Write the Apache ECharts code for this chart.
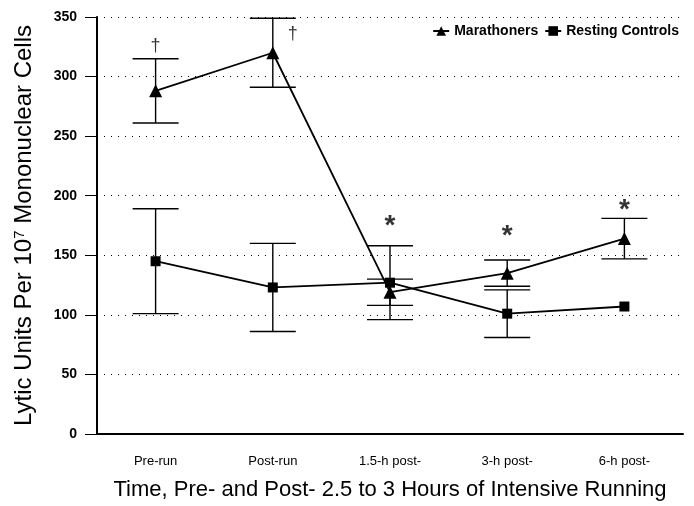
<!DOCTYPE html>
<html>
<head>
<meta charset="utf-8">
<script src="https://cdn.jsdelivr.net/npm/echarts@6/dist/echarts.min.js"></script>
<style>
  html, body { margin: 0; padding: 0; background: #fff; }
  #main { width: 694px; height: 506px; }
</style>
</head>
<body>
<div id="main"></div>
<script>
// values
var categories = ['Pre-run', 'Post-run', '1.5-h post-', '3-h post-', '6-h post-'];
var marathoners = [288, 320, 119, 135, 164];
var marathonersErr = [27, 29, 11, 11, 17];
var controls = [145, 123, 127, 101, 107];
var controlsErr = [44, 37, 31, 20, 0];
var yTicks = [0, 50, 100, 150, 200, 250, 300, 350];
// significance marks: dagger and asterisk
var daggerCats = ['Pre-run', 'Post-run'];
var daggerVals = [326, 336];
var starCats = ['1.5-h post-', '3-h post-', '6-h post-'];
var starVals = [179, 171, 193];

var font = 'Liberation Sans, Arial, Helvetica, sans-serif';

function errData(means, errs) {
  return means.map(function (m, i) { return [i, m - errs[i], m + errs[i]]; });
}

function renderErr(params, api) {
  var x = api.value(0);
  var lo = api.coord([x, api.value(1)]);
  var hi = api.coord([x, api.value(2)]);
  var hw = 23;
  var st = { stroke: '#000', lineWidth: 1.4 };
  if (api.value(2) - api.value(1) <= 0) return null;
  return {
    type: 'group',
    children: [
      { type: 'line', shape: { x1: lo[0], y1: lo[1], x2: hi[0], y2: hi[1] }, style: st },
      { type: 'line', shape: { x1: lo[0] - hw, y1: lo[1], x2: lo[0] + hw, y2: lo[1] }, style: st },
      { type: 'line', shape: { x1: hi[0] - hw, y1: hi[1], x2: hi[0] + hw, y2: hi[1] }, style: st }
    ]
  };
}

var chart = echarts.init(document.getElementById('main'));
chart.setOption({
  animation: false,
  textStyle: { fontFamily: font, color: '#000' },
  grid: { left: 97, right: 11, top: 17, bottom: 72, outerBoundsMode: 'none', containLabel: false },
  legend: {
    top: 19,
    right: 10,
    itemWidth: 16,
    itemHeight: 12,
    itemGap: 6,
    textStyle: { fontFamily: font, fontSize: 14, fontWeight: 'bold', color: '#000' },
    data: ['Marathoners', 'Resting Controls']
  },
  xAxis: {
    type: 'category',
    data: categories,
    name: 'Time, Pre- and Post- 2.5 to 3 Hours of Intensive Running',
    nameLocation: 'middle',
    nameGap: 45,
    nameTextStyle: { fontFamily: font, fontSize: 22, color: '#000' },
    axisLine: { lineStyle: { color: '#000', width: 2 } },
    axisTick: { alignWithLabel: true, length: 8, lineStyle: { color: '#000' } },
    axisLabel: { fontFamily: font, fontSize: 13, color: '#000', margin: 21 },
    splitLine: { show: false }
  },
  yAxis: {
    type: 'value',
    min: yTicks[0],
    max: yTicks[yTicks.length - 1],
    interval: 50,
    name: 'Lytic Units Per 10{sup|7} Mononuclear Cells',
    nameLocation: 'middle',
    nameGap: 60,
    nameTextStyle: {
      fontFamily: font, fontSize: 24, color: '#000',
      rich: { sup: { fontFamily: font, fontSize: 15, verticalAlign: 'top', padding: [0, 0, 10, 0] } }
    },
    axisLine: { show: true, lineStyle: { color: '#000', width: 2 } },
    axisTick: { show: true, length: 12, lineStyle: { color: '#000' } },
    axisLabel: { fontFamily: font, fontSize: 14, fontWeight: 'bold', color: '#000', margin: 20 },
    splitLine: { show: true, lineStyle: { color: '#000', type: [1, 6], width: 1 } }
  },
  series: [
    {
      name: 'Resting Controls',
      type: 'line',
      data: controls,
      symbol: 'rect',
      symbolSize: 10,
      lineStyle: { color: '#000', width: 1.8 },
      itemStyle: { color: '#000' },
      z: 3
    },
    {
      name: 'Marathoners',
      type: 'line',
      data: marathoners,
      symbol: 'triangle',
      symbolSize: 13,
      lineStyle: { color: '#000', width: 1.8 },
      itemStyle: { color: '#000' },
      z: 4
    },
    {
      type: 'custom',
      renderItem: renderErr,
      data: errData(controls, controlsErr),
      encode: { x: 0, y: [1, 2] },
      z: 2
    },
    {
      type: 'custom',
      renderItem: renderErr,
      data: errData(marathoners, marathonersErr),
      encode: { x: 0, y: [1, 2] },
      z: 2
    },
    {
      type: 'scatter',
      symbolSize: 0,
      silent: true,
      data: daggerCats.map(function (c, i) {
        return { value: [c, daggerVals[i]], label: { offset: [i === 1 ? 20 : 0, 0] } };
      }),
      label: { show: true, position: 'inside', formatter: '\u2020', fontFamily: font, fontSize: 18, color: '#000' }
    },
    {
      type: 'scatter',
      symbolSize: 0,
      silent: true,
      data: starCats.map(function (c, i) { return [c, starVals[i]]; }),
      label: { show: true, position: 'inside', formatter: '*', fontFamily: font, fontSize: 28, fontWeight: 'bold', color: '#000', offset: [0, 6] }
    }
  ]
});
</script>
</body>
</html>
